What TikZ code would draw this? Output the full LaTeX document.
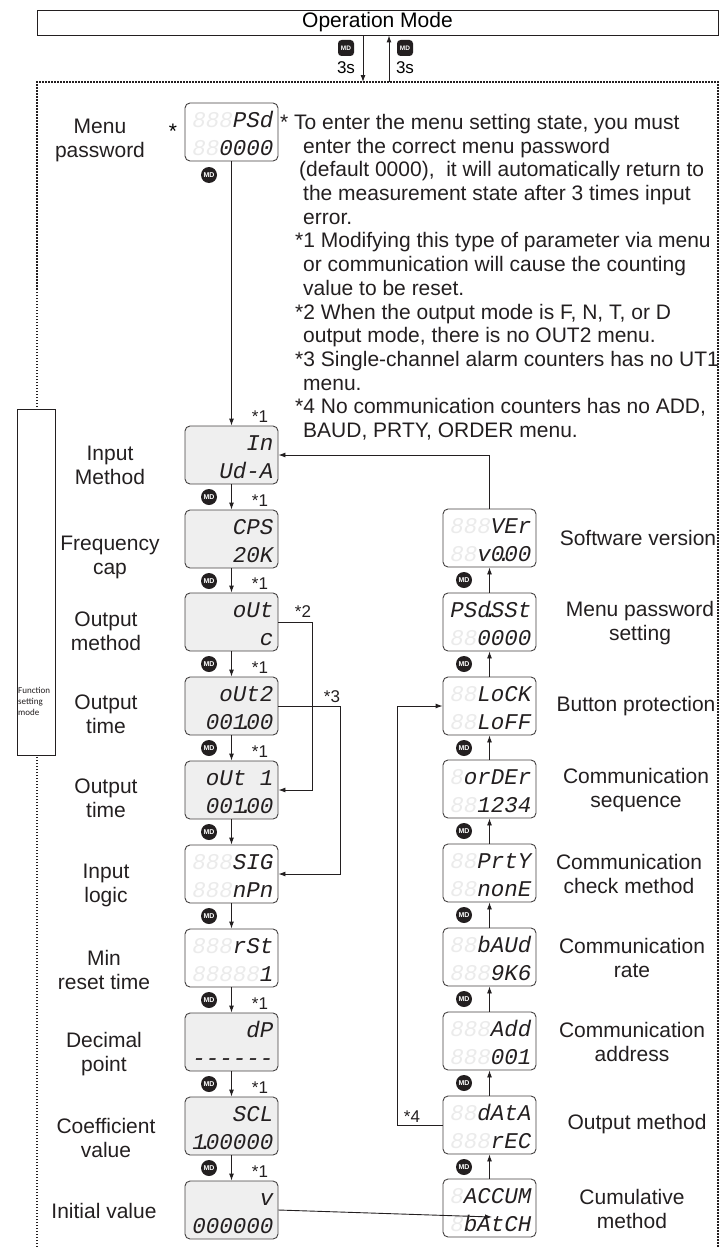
\documentclass[tikz,border=0pt]{standalone}
\usepackage{fontspec}
\setmainfont{Liberation Sans}
\newfontfamily\segfont{Liberation Mono}
\newfontfamily\sidefont{Carlito}
\usetikzlibrary{arrows.meta}
\definecolor{ink}{HTML}{231F20}
\definecolor{lcdgray}{HTML}{EFEFEF}
\definecolor{ghost}{HTML}{EBEBEB}
\newcommand\gh[1]{\textcolor{ghost}{#1}}
\newcommand\dt{\makebox[0pt]{.}}
% display: name, centre x, top y, upper row, lower row, style
\newcommand\lcd[6]{%
  \node[#6] (#1) at (#2,#3+29) {};
  \node[seg] (#1-up) at (#2+42,#3+24) {#4};
  \node[seg] (#1-dn) at (#2+42,#3+52) {#5};
}
\tikzset{
  lcdw/.style={rectangle, rounded corners=5pt, draw=ink!85, line width=0.9pt, fill=white,
    minimum width=93pt, minimum height=58pt, inner sep=0pt},
  lcdg/.style={lcdw, fill=lcdgray},
  seg/.style={anchor=base east, inner sep=0pt, text=ink, font=\segfont\itshape\fontsize{22.5}{22.5}\selectfont},
  mdkey/.style={circle, fill=ink, text=white, inner sep=0pt, minimum size=16pt,
    font=\bfseries\fontsize{7}{7}\selectfont},
  mdsq/.style={rectangle, rounded corners=3.5pt, fill=ink, text=white, inner sep=0pt, minimum size=16pt,
    font=\bfseries\fontsize{6.5}{6.5}\selectfont},
  link/.style={draw=ink, line width=0.9pt, -{Latex[length=7pt,width=5pt]}},
  lbl/.style={align=center, inner sep=0pt, text=ink, font=\fontsize{21}{24}\selectfont},
  starlbl/.style={inner sep=0pt, text=ink, font=\fontsize{17}{17}\selectfont},
  notetext/.style={anchor=north west, align=left, inner sep=0pt, text=ink,
    font=\fontsize{21}{23.7}\selectfont},
  frame/.style={draw=ink, line width=1.2pt, dash pattern=on 1.5pt off 1.5pt},
}
\begin{document}
\begin{tikzpicture}[x=1pt, y=-1pt]
\useasboundingbox (0,0) rectangle (726,1247);

% operation mode and entry
\node[draw=ink, line width=0.9pt, minimum width=681pt, minimum height=25pt, inner sep=0pt,
  font=\fontsize{21}{21}\selectfont] (opmode) at (377.5,22.5) {Operation Mode};
\coordinate (entry) at (363,82);
\coordinate (exit) at (389,82);
\draw[frame] (37,1247) -- (37,82) -- (718,82) -- (718,1247); % function frame
\draw[link] (opmode.south -| entry) -- (entry);
\draw[link] (exit) -- (opmode.south -| exit);
\node[mdsq] (mdin) at (346,48) {MD};
\node[mdsq] (mdout) at (405,48) {MD};
\node[font=\fontsize{17}{17}\selectfont, inner sep=0pt] (tin) at (346,68) {3s};
\node[font=\fontsize{17}{17}\selectfont, inner sep=0pt] (tout) at (405,68) {3s};

% side box
\node[rectangle, draw=ink, line width=0.8pt, fill=white, minimum width=38pt, minimum height=346pt,
  inner sep=0pt] (fsm) at (36,582) {};
\node[anchor=north west, align=left, inner sep=0pt, text=ink, font=\sidefont\fontsize{9}{11}\selectfont]
  (fsmtext) at (18,687) {Function\\setting\\mode};

% left column
\lcd{pwd}{231.5}{103}{\gh{888}PSd}{\gh{88}0000}{lcdw}
\lcd{inm}{231.5}{426}{In}{Ud-A}{lcdg}
\lcd{cps}{231.5}{510}{CPS}{20K}{lcdg}
\lcd{outm}{231.5}{593}{oUt}{c}{lcdg}
\lcd{outb}{231.5}{677}{oUt2}{001\dt00}{lcdg}
\lcd{outa}{231.5}{761}{oUt 1}{001\dt00}{lcdg}
\lcd{sig}{231.5}{845}{\gh{888}SIG}{\gh{888}nPn}{lcdw}
\lcd{rst}{231.5}{929}{\gh{888}rSt}{\gh{88888}1}{lcdw}
\lcd{dp}{231.5}{1013}{dP}{------}{lcdg}
\lcd{scl}{231.5}{1097}{SCL}{1\dt00000}{lcdg}
\lcd{ini}{231.5}{1181}{v}{000000}{lcdg}

% right column
\lcd{ver}{489.5}{509}{\gh{888}VEr}{\gh{88}v0\dt00}{lcdw}
\lcd{pss}{489.5}{593}{PSd\dt SSt}{\gh{88}0000}{lcdw}
\lcd{lck}{489.5}{677}{\gh{88}LoCK}{\gh{88}LoFF}{lcdw}
\lcd{ord}{489.5}{760}{\gh{8}orDEr}{\gh{88}1234}{lcdw}
\lcd{prt}{489.5}{844}{\gh{88}PrtY}{\gh{88}nonE}{lcdw}
\lcd{bau}{489.5}{928}{\gh{88}bAUd}{\gh{888}9K6}{lcdw}
\lcd{add}{489.5}{1012}{\gh{888}Add}{\gh{888}001}{lcdw}
\lcd{dat}{489.5}{1096}{\gh{88}dAtA}{\gh{888}rEC}{lcdw}
\lcd{acc}{489.5}{1179}{\gh{8}ACCUM}{\gh{8}bAtCH}{lcdw}

% MD keys
\node[mdkey] (md0) at (209,175) {MD}; % pwd
\node[mdkey] (md1) at (209,497) {MD}; % inm
\node[mdkey] (md2) at (209,581) {MD}; % cps
\node[mdkey] (md3) at (209,664) {MD}; % outm
\node[mdkey] (md4) at (209,748) {MD}; % outb
\node[mdkey] (md5) at (209,832) {MD}; % outa
\node[mdkey] (md6) at (209,916) {MD}; % sig
\node[mdkey] (md7) at (209,1000) {MD}; % rst
\node[mdkey] (md8) at (209,1084) {MD}; % dp
\node[mdkey] (md9) at (209,1168) {MD}; % scl
\node[mdkey] (mr1) at (464,580) {MD}; % ver
\node[mdkey] (mr2) at (464,664) {MD}; % pss
\node[mdkey] (mr3) at (464,748) {MD}; % lck
\node[mdkey] (mr4) at (464,831) {MD}; % ord
\node[mdkey] (mr5) at (464,915) {MD}; % prt
\node[mdkey] (mr6) at (464,999) {MD}; % bau
\node[mdkey] (mr7) at (464,1083) {MD}; % add
\node[mdkey] (mr8) at (464,1167) {MD}; % dat

% down the left
\draw[link] (pwd.south) -- (inm.north);
\draw[link] (inm.south) -- (cps.north);
\draw[link] (cps.south) -- (outm.north);
\draw[link] (outm.south) -- (outb.north);
\draw[link] (outb.south) -- (outa.north);
\draw[link] (outa.south) -- (sig.north);
\draw[link] (sig.south) -- (rst.north);
\draw[link] (rst.south) -- (dp.north);
\draw[link] (dp.south) -- (scl.north);
\draw[link] (scl.south) -- (ini.north);
\draw[link] (outm.east) -- ++(34,0) |- (outa.east); % *2
\draw[link] (outb.east) -- ++(62,0) |- (sig.east); % *3

% up the right
\coordinate (acctip) at (492,1217);
\draw[link] (ini.east) -- (acctip);
\draw[link] (acc.north) -- (dat.south);
\draw[link] (dat.north) -- (add.south);
\draw[link] (add.north) -- (bau.south);
\draw[link] (bau.north) -- (prt.south);
\draw[link] (prt.north) -- (ord.south);
\draw[link] (ord.north) -- (lck.south);
\draw[link] (lck.north) -- (pss.south);
\draw[link] (pss.north) -- (ver.south);
\draw[link] (ver.north) |- (inm.east);
\draw[link] (dat.west) -- ++(-45,0) |- (lck.west); % *4

% marks
\node[font=\fontsize{21}{21}\selectfont, inner sep=0pt] (pwdstar) at (173,131) {*};
\node[starlbl] (s1) at (260,417) {*1};
\node[starlbl] (s2) at (260,501) {*1};
\node[starlbl] (s3) at (260,584) {*1};
\node[starlbl] (s4) at (260,668) {*1};
\node[starlbl] (s5) at (260,752) {*1};
\node[starlbl] (s6) at (260,1004) {*1};
\node[starlbl] (s7) at (260,1088) {*1};
\node[starlbl] (s8) at (260,1172) {*1};
\node[starlbl] (m2) at (303,612) {*2};
\node[starlbl] (m3) at (332,697) {*3};
\node[starlbl] (m4) at (412,1117) {*4};

% left labels
\node[lbl] (lpwd) at (100,140) {Menu\\password};
\node[lbl] (linm) at (110,465) {Input\\Method};
\node[lbl] (lcps) at (110,557) {Frequency\\cap};
\node[lbl] (loutm) at (106,631) {Output\\method};
\node[lbl] (loutb) at (106,714) {Output\\time};
\node[lbl] (louta) at (106,798) {Output\\time};
\node[lbl] (lsig) at (106,885) {Input\\logic};
\node[lbl] (lrst) at (104,970) {Min\\reset time};
\node[lbl] (ldp) at (104,1054) {Decimal\\point};
\node[lbl] (lscl) at (106,1138) {Coefficient\\value};
\node[lbl] (lini) at (104,1211) {Initial value};

% right labels
\node[lbl] (lver) at (638,538) {Software version};
\node[lbl] (lpss) at (640,623) {Menu password\\setting};
\node[lbl] (llck) at (636,706) {Button protection};
\node[lbl] (lord) at (636,790) {Communication\\sequence};
\node[lbl] (lprt) at (629,874) {Communication\\check method};
\node[lbl] (lbau) at (632,958) {Communication\\rate};
\node[lbl] (ladd) at (632,1042) {Communication\\address};
\node[lbl] (ldat) at (637,1124) {Output method};
\node[lbl] (lacc) at (632,1209) {Cumulative\\method};

% notes
\node[notetext] (notes) at (280,114) {%
* To enter the menu setting state, you must\\
\hspace*{23pt}enter the correct menu password\\
\hspace*{19pt}(default 0000),~ it will automatically return to\\
\hspace*{23pt}the measurement state after 3 times input\\
\hspace*{23pt}error.\\
\hspace*{15pt}*1 Modifying this type of parameter via menu\\
\hspace*{23pt}or communication will cause the counting\\
\hspace*{23pt}value to be reset.\\
\hspace*{15pt}*2 When the output mode is F, N, T, or D\\
\hspace*{23pt}output mode, there is no OUT2 menu.\\
\hspace*{15pt}*3 Single-channel alarm counters has no UT1\\
\hspace*{23pt}menu.\\
\hspace*{15pt}*4 No communication counters has no ADD,\\
\hspace*{23pt}BAUD, PRTY, ORDER menu.};
\end{tikzpicture}
\end{document}
